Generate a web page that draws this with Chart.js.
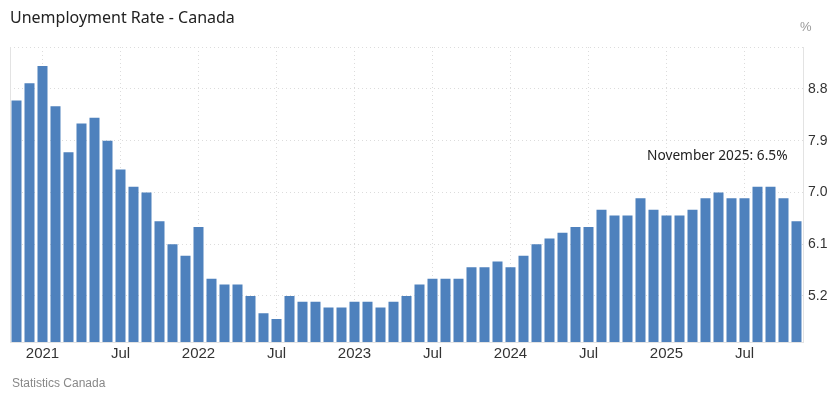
<!DOCTYPE html>
<html>
<head>
<meta charset="utf-8">
<script src="https://cdn.jsdelivr.net/npm/chart.js@4.4.1/dist/chart.umd.min.js"></script>
<style>
    body { margin: 0; background: #fff; }
    #wrap { position: relative; width: 840px; height: 396px; }
    #title { position: absolute; left: 10px; top: 6px; font: 16px "Noto Sans", sans-serif; color: #222; }
    #unit { position: absolute; left: 800px; top: 19px; font: 13px "Liberation Sans", Arial, sans-serif; color: #999; }
    #source { position: absolute; left: 12px; top: 376px; font: 12px "Liberation Sans", Arial, sans-serif; color: #888; }
</style>
</head>
<body>
<div id="wrap">
    <canvas id="chart"></canvas>
    <div id="title">Unemployment Rate - Canada</div>
    <div id="unit">%</div>
    <div id="source">Statistics Canada</div>
</div>
<script>
const months = [
    '2020-11', '2020-12',
    '2021-01', '2021-02', '2021-03', '2021-04', '2021-05', '2021-06', '2021-07', '2021-08', '2021-09', '2021-10', '2021-11', '2021-12',
    '2022-01', '2022-02', '2022-03', '2022-04', '2022-05', '2022-06', '2022-07', '2022-08', '2022-09', '2022-10', '2022-11', '2022-12',
    '2023-01', '2023-02', '2023-03', '2023-04', '2023-05', '2023-06', '2023-07', '2023-08', '2023-09', '2023-10', '2023-11', '2023-12',
    '2024-01', '2024-02', '2024-03', '2024-04', '2024-05', '2024-06', '2024-07', '2024-08', '2024-09', '2024-10', '2024-11', '2024-12',
    '2025-01', '2025-02', '2025-03', '2025-04', '2025-05', '2025-06', '2025-07', '2025-08', '2025-09', '2025-10', '2025-11'
];

const rates = [
    8.6, 8.9,
    9.2, 8.5, 7.7, 8.2, 8.3, 7.9, 7.4, 7.1, 7.0, 6.5, 6.1, 5.9,
    6.4, 5.5, 5.4, 5.4, 5.2, 4.9, 4.8, 5.2, 5.1, 5.1, 5.0, 5.0,
    5.1, 5.1, 5.0, 5.1, 5.2, 5.4, 5.5, 5.5, 5.5, 5.7, 5.7, 5.8,
    5.7, 5.9, 6.1, 6.2, 6.3, 6.4, 6.4, 6.7, 6.6, 6.6, 6.9, 6.7,
    6.6, 6.6, 6.7, 6.9, 7.0, 6.9, 6.9, 7.1, 7.1, 6.9, 6.5
];

const yTicks = [5.2, 6.1, 7.0, 7.9, 8.8];
const yMin = 4.4;
const yMax = 9.53;
const lastLabel = 'November 2025: 6.5%';

const tickText = (month) => {
    const [year, m] = month.split('-');
    if (m === '01') return year;
    if (m === '07') return 'Jul';
    return '';
};

// left frame line + latest value note
const extras = {
    id: 'extras',
    afterDraw(chart) {
        const { ctx, chartArea, scales } = chart;
        ctx.save();
        ctx.strokeStyle = '#e3e3e3';
        ctx.lineWidth = 1;
        ctx.beginPath();
        ctx.moveTo(chartArea.left + 0.5, chartArea.top);
        ctx.lineTo(chartArea.left + 0.5, chartArea.bottom);
        ctx.stroke();

        const last = rates.length - 1;
        const x = scales.x.getPixelForValue(last) - 9;
        const y = scales.y.getPixelForValue(rates[last]) - 65;
        ctx.font = '13.7px "Noto Sans", sans-serif';
        ctx.fillStyle = '#222';
        ctx.textAlign = 'right';
        ctx.textBaseline = 'middle';
        ctx.fillText(lastLabel, x, y);
        ctx.restore();
    }
};

new Chart(document.getElementById('chart'), {
    type: 'bar',
    data: {
        labels: months,
        datasets: [{
            data: rates,
            backgroundColor: '#4e81bd',
            barPercentage: 0.77,
            categoryPercentage: 1.0,
        }]
    },
    options: {
        responsive: true,
        maintainAspectRatio: false,
        animation: false,
        layout: { padding: { top: 47, left: 10, right: 0, bottom: 0 } },
        plugins: {
            legend: { display: false },
            tooltip: { enabled: false }
        },
        scales: {
            x: {
                afterFit: (scale) => { scale.height = 54; },
                border: { display: true, color: '#e3e3e3', dash: [1, 3] },
                grid: {
                    offset: false,
                    drawTicks: false,
                    color: (ctx) => (ctx.tick && tickText(months[ctx.tick.value]) ? '#dcdcdc' : 'rgba(0,0,0,0)'),
                },
                ticks: {
                    autoSkip: false,
                    maxRotation: 0,
                    padding: 3,
                    color: '#333',
                    font: { family: '"Liberation Sans", Arial, sans-serif', size: 15 },
                    callback: (value) => tickText(months[value]),
                }
            },
            y: {
                position: 'right',
                min: yMin,
                max: yMax,
                afterFit: (scale) => { scale.width = 37; },
                afterBuildTicks: (scale) => {
                    scale.ticks = yTicks.concat([yMax]).map((v) => ({ value: v }));
                },
                border: { display: true, color: '#e3e3e3', dash: [1, 3] },
                grid: { drawTicks: false, color: '#dcdcdc' },
                ticks: {
                    padding: 5,
                    color: '#333',
                    font: { family: '"Liberation Sans", Arial, sans-serif', size: 14 },
                    callback: (value) => (value === yMax ? '' : value.toFixed(1)),
                }
            }
        }
    },
    plugins: [extras]
});
</script>
</body>
</html>
